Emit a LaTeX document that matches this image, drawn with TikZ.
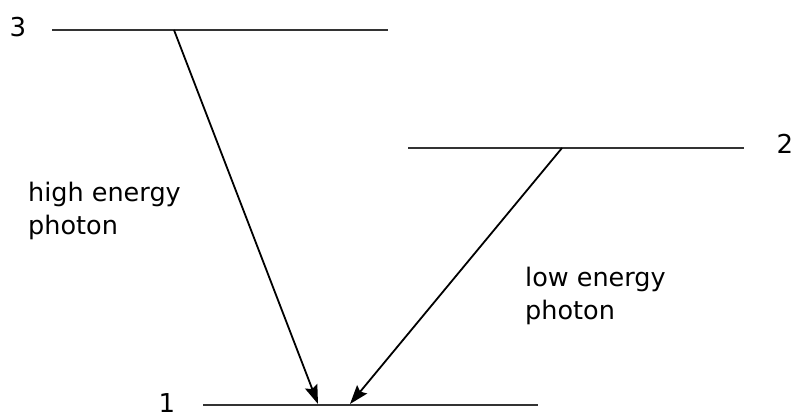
\documentclass[tikz,border=0pt]{standalone}
\usepackage{fontspec}
\setmainfont{DejaVu Sans}
\usetikzlibrary{arrows.meta,positioning}
\definecolor{levelgray}{HTML}{333333}
\tikzset{
  level/.style={draw=levelgray, line width=2.4pt},
  lvllabel/.style={font=\fontsize{26}{30}\selectfont, inner sep=0pt},
  photonlabel/.style={font=\fontsize{25.5}{33}\selectfont, align=left, inner sep=0pt, anchor=north west},
  photon/.style={-{Stealth[length=19pt, width=13pt, inset=3pt]}, line width=1.8pt, draw=black}
}

\begin{document}
\begin{tikzpicture}[x=1pt,y=-1pt]
  \useasboundingbox (0,0) rectangle (796,414);
  % energy levels
  \coordinate (l3a) at (52,30);   \coordinate (l3b) at (388,30);
  \coordinate (l2a) at (408,148); \coordinate (l2b) at (744,148);
  \coordinate (l1a) at (203,405); \coordinate (l1b) at (538,405);
  \draw[level] (l3a) -- (l3b);
  \draw[level] (l2a) -- (l2b);
  \draw[level] (l1a) -- (l1b);
  \node[lvllabel] (n3) at (18,27) {3};
  \node[lvllabel] (n2) at (785,144) {2};
  \node[lvllabel] (n1) at (167,403) {1};
  % transitions
  \coordinate (from3) at (174,30);
  \coordinate (from2) at (562,148);
  \coordinate (to3) at (318,404);
  \coordinate (to2) at (350,404);
  \draw[photon] (from3) -- (to3);
  \draw[photon] (from2) -- (to2);
  \node[photonlabel] (high) at (28,182) {high energy\\photon};
  \node[photonlabel] (low) at (525,267) {low energy\\photon};
\end{tikzpicture}
\end{document}
